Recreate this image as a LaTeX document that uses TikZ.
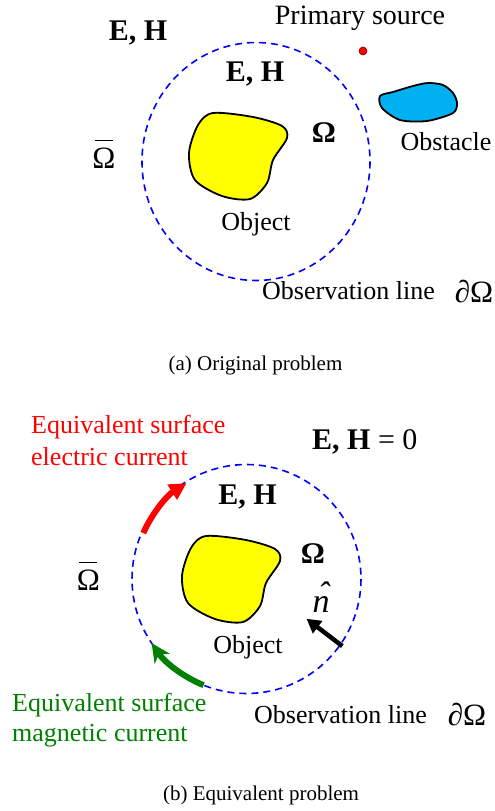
\documentclass[tikz,border=0pt]{standalone}
\usepackage{fix-cm}
\usepackage{fontspec}
\setmainfont{Liberation Serif}
\usetikzlibrary{arrows.meta,calc}
\definecolor{obsblue}{HTML}{0000FF}
\definecolor{srcred}{HTML}{FF0000}
\definecolor{maggreen}{HTML}{008000}
\definecolor{obstcyan}{HTML}{00B0F0}
\definecolor{objyellow}{HTML}{FFFF00}
\newcommand\omegabar{\rlap{\hspace{0.08em}\raisebox{0.86em}{\rule{0.58em}{1.3pt}}}Ω}

\begin{document}
\begin{tikzpicture}[x=1pt,y=-1pt,
    obsline/.style={obsblue,line width=1.6pt,dash pattern=on 7pt off 5pt},
    blob/.style={draw=black,line width=1.8pt,line join=round},
    txt/.style={inner sep=0pt,font=\fontsize{26}{30}\selectfont},
    fld/.style={inner sep=0pt,font=\bfseries\fontsize{30}{34}\selectfont},
    outer/.style={inner sep=0pt,anchor=base,font=\fontsize{31}{35}\selectfont},
    bdry/.style={inner sep=0pt,font=\fontsize{31}{35}\selectfont},
    captxt/.style={inner sep=0pt,font=\fontsize{21}{25}\selectfont},
    current/.style={line width=6pt},
    objblob/.pic={\path[blob,fill=objyellow] plot[smooth cycle] coordinates
      {(-26,-44) (14,-40) (43,-31) (48,-19) (34,3) (28,26) (11,42) (-17,39) (-44,23) (-50,-4) (-41,-32)};}]
    \useasboundingbox (0,0) rectangle (495,811);

    % (a) original problem
    \coordinate (ca) at (256,161.5);
    \draw[obsline] (ca) ellipse [x radius=114, y radius=119];
    \pic at (239,157) {objblob};
    \path[blob,fill=obstcyan] plot[smooth cycle] coordinates
      {(380,96) (382,108) (400,120) (427,121) (453,113) (457,103) (453,93) (443,85) (428,83) (413,86) (393,92)};
    \node[circle,fill=srcred,draw=black!60!red,line width=0.6pt,minimum size=8pt,inner sep=0pt] (src) at (363,51) {};

    \node[txt,font=\fontsize{28}{32}\selectfont] (srclbl) at (360,18) {Primary source};
    \node[fld] (ehout) at (138,33) {E, H};
    \node[fld] (ehin) at (255,74) {E, H};
    \node[fld] (omin) at (324,133) {Ω};
    \node[outer] (omout) at (104,168) {\omegabar};
    \node[txt] (obstlbl) at (446,142) {Obstacle};
    \node[txt] (objlbl) at (256,224) {Object};
    \node[txt] (obslbl) at (348.5,291) {Observation line};
    \node[bdry] (bd) at (474,292) {∂Ω};
    \node[captxt] (capa) at (255.5,365) {(a) Original problem};

    % (b) equivalent problem
    \coordinate (cb) at (246.5,579);
    \draw[obsline] (cb) circle [radius=114.5];
    \pic at (232,580) {objblob};

    % surface currents along the observation line
    \draw[current,srcred,-{Triangle[length=17pt,width=17pt]}]
      ($(cb)+(204:113)$) arc[start angle=204,end angle=238,radius=113];
    \draw[current,maggreen,-{Stealth[length=19pt,width=18pt,inset=6pt]}]
      ($(cb)+(112:114.5)$) arc[start angle=112,end angle=146,radius=114.5];
    \coordinate (nb) at ($(cb)+(35:117)$);
    \coordinate (nt) at ($(cb)+(33.5:72)$);
    \draw[line width=4.5pt,-{Triangle[length=14pt,width=15pt]}] (nb) -- (nt);

    \node[txt,srcred,anchor=west] (ecur1) at (31,427) {Equivalent surface};
    \node[txt,srcred,anchor=west] (ecur2) at (31,457) {electric current};
    \node[fld,anchor=west] (ehzero) at (312,442) {E, H \mdseries= 0};
    \node[fld] (ehin2) at (247.5,497) {E, H};
    \node[outer] (omout2) at (88.5,590) {\omegabar};
    \node[fld] (omin2) at (313,554) {Ω};
    \node[inner sep=0pt,anchor=base,font=\itshape\fontsize{34}{38}\selectfont] (nhat) at (321,612) {\rlap{\hspace{0.16em}\raisebox{0.2em}{ˆ}}n};
    \node[txt] (objlbl2) at (248,647) {Object};
    \node[txt] (obslbl2) at (340.5,715) {Observation line};
    \node[bdry] (bd2) at (467,715) {∂Ω};
    \node[txt,maggreen,anchor=west] (mcur1) at (12,705) {Equivalent surface};
    \node[txt,maggreen,anchor=west] (mcur2) at (12,736) {magnetic current};
    \node[captxt] (capb) at (261,795) {(b) Equivalent problem};
  \end{tikzpicture}
\end{document}
